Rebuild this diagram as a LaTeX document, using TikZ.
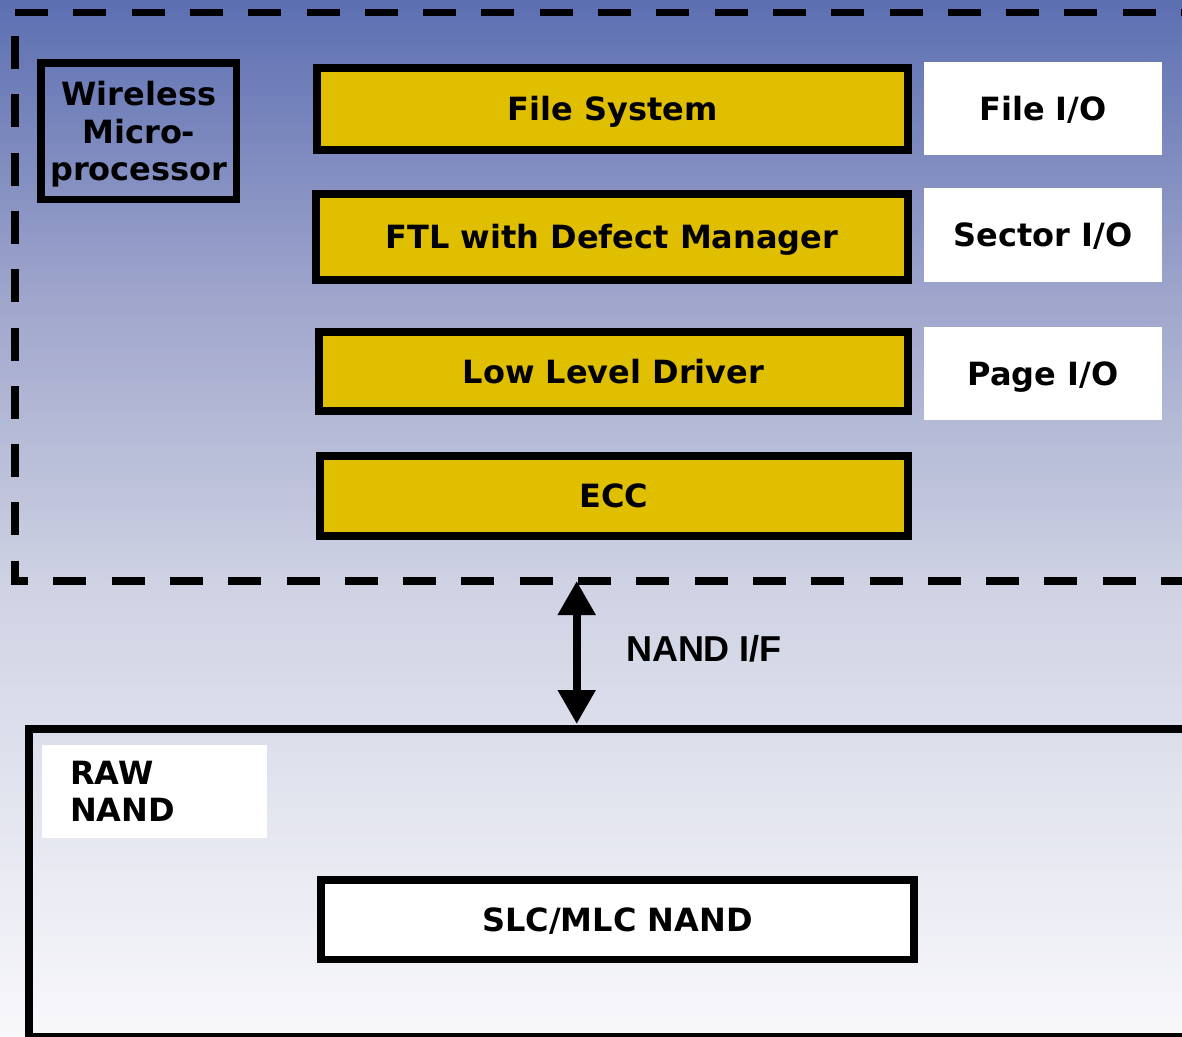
\documentclass[tikz,border=0pt]{standalone}
\usepackage{fontspec}
\setmainfont{DejaVu Sans}
\newfontfamily\ifacefont{Liberation Sans}
\usetikzlibrary{arrows.meta}

\definecolor{bgA}{RGB}{92,111,178}
\definecolor{bgB}{RGB}{160,166,204}
\definecolor{bgC}{RGB}{206,210,227}
\definecolor{bgD}{RGB}{248,248,251}
\definecolor{layerfill}{RGB}{224,190,0}

\newcommand\labelfont{\bfseries\fontsize{32}{37.5}\selectfont}

\tikzset{
  dashframe/.style={line width=7.5pt, dash pattern=on 33pt off 25.3pt},
  layer/.style={draw=black, line width=7.5pt, fill=layerfill, outer sep=0pt,
    inner sep=0pt, anchor=north west, font=\labelfont,
    text height=23.3pt, text depth=0pt},
  membox/.style={layer, fill=white},
  iobox/.style={fill=white, outer sep=0pt, inner sep=0pt, anchor=north west,
    font=\labelfont, text height=23.3pt, text depth=0pt},
  framebox/.style={draw=black, line width=7.5pt, outer sep=0pt, inner sep=0pt,
    anchor=north west, font=\labelfont},
  tagbox/.style={fill=white, outer sep=0pt, inner ysep=0pt, anchor=north west,
    font=\labelfont, text height=23.3pt, text depth=37.5pt},
  conn/.style={line width=8pt,
    {Triangle[width=36pt,length=34pt]}-{Triangle[width=36pt,length=34pt]}}
}

\begin{document}
\begin{tikzpicture}[x=1pt,y=-1pt]
\useasboundingbox (0,0) rectangle (1182,1036);
\clip (0,0) rectangle (1182,1036);

% backdrop: blue at the top fading to near white
\shade[top color=bgA, bottom color=bgB] (0,0) rectangle (1182,301);
\shade[top color=bgB, bottom color=bgC] (0,300) rectangle (1182,581);
\shade[top color=bgC, bottom color=bgD] (0,580) rectangle (1182,1036);

% dashed boundary of the processor side
\draw[dashframe] (15,12.5) -- (1190,12.5);
\draw[dashframe] (15,36) -- (15,585);
\draw[dashframe, dash phase=16pt] (11,581) -- (1190,581);
\coordinate (ifTop) at (576.7,581);

% processor block
\node[framebox, minimum width=195.7pt, minimum height=136.5pt, align=center,
  text depth=0pt] (mcu) at (41,63) {Wireless\\Micro-\\processor};

% software layers
\node[layer, minimum width=591pt, minimum height=82pt] (fs) at (317,68) {File System};
\node[layer, minimum width=592pt, minimum height=86pt] (ftl) at (316,194) {FTL with Defect Manager};
\node[layer, minimum width=589pt, minimum height=79pt] (lld) at (319,332) {Low Level Driver};
\node[layer, minimum width=588pt, minimum height=80pt] (ecc) at (320,456) {ECC};

% interface levels
\node[iobox, minimum width=237.4pt, minimum height=92.7pt] (fio) at (924.3,62.3) {File I/O};
\node[iobox, minimum width=237.4pt, minimum height=93.4pt] (sio) at (924.3,188.3) {Sector I/O};
\node[iobox, minimum width=237.4pt, minimum height=93pt] (pio) at (924.3,327) {Page I/O};

% flash device
\node[framebox, line width=8pt, minimum width=1171pt, minimum height=308pt] (raw) at (29,728.5) {};
\node[tagbox, minimum width=225pt, minimum height=93pt, text width=168pt,
  inner xsep=28.3pt, align=left] (rawtag) at (41.7,745) {RAW\\NAND};
\node[membox, minimum width=593pt, minimum height=79.5pt] (slc) at (321,880) {SLC/MLC NAND};

% NAND interface
\draw[conn, shorten >=4.5pt] (ifTop) -- (ifTop |- raw.north);
\node[font=\ifacefont\bfseries\fontsize{36}{43}\selectfont, anchor=base] (nif) at (704,661.7) {NAND I/F};
\end{tikzpicture}
\end{document}
